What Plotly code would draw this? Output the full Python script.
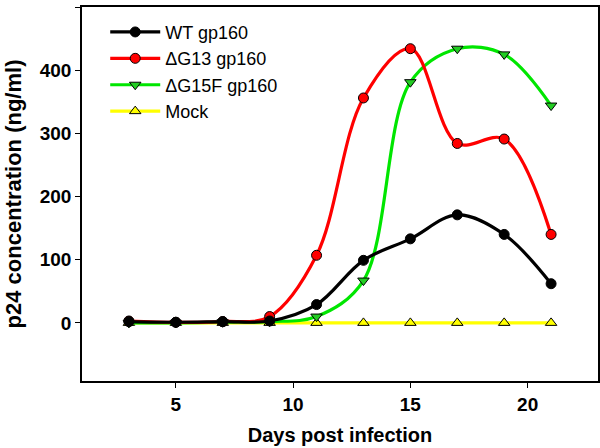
import plotly.graph_objects as go

days = [3, 5, 7, 9, 11, 13, 15, 17, 19, 21]
wt = [2, 1, 2, 3, 29, 99, 133, 171, 140, 62]
dg13 = [3, 1, 2, 10, 107, 356, 434, 284, 291, 140]
dg15f = [0, 0, 1, 2, 10, 67, 381, 434, 425, 344]
mock = [0, 0, 0, 0, 0, 0, 0, 0, 0, 0]

series = [
    ("Mock", mock, "#FFFF00", "triangle-up", "#FFFF00"),
    ("ΔG15F gp160", dg15f, "#00E600", "triangle-down", "#22CC22"),
    ("ΔG13 gp160", dg13, "#FF0000", "circle", "#FF0000"),
    ("WT gp160", wt, "#000000", "circle", "#000000"),
]
order = {"WT gp160": 1, "ΔG13 gp160": 2, "ΔG15F gp160": 3, "Mock": 4}

fig = go.Figure()
for name, vals, color, sym, mfill in series:
    fig.add_trace(go.Scatter(
        x=days, y=vals, name=name, mode="lines+markers",
        line=dict(color=color, width=3.2, shape="spline", smoothing=1.0),
        marker=dict(symbol=sym, size=10, color=mfill, line=dict(color="black", width=1)),
        legendrank=order[name],
    ))

font = "Arial, Liberation Sans, sans-serif"
fig.update_layout(
    width=600, height=448,
    margin=dict(l=82, r=2, t=7, b=67),
    plot_bgcolor="white", paper_bgcolor="white",
    font=dict(family=font, size=16, color="black"),
    showlegend=True,
    legend=dict(x=0.045, y=0.982, xanchor="left", yanchor="top",
                bgcolor="rgba(0,0,0,0)", font=dict(size=18, family=font),
                itemwidth=50, tracegroupgap=0),
    xaxis=dict(range=[1, 23], tickvals=[5, 10, 15, 20], showgrid=False, zeroline=False,
               showline=True, linecolor="black", linewidth=1.5, mirror=True, automargin=False,
               ticks="outside", ticklen=5, tickcolor="black",
               tickfont=dict(size=19, family=font, weight="bold"),
               title=dict(text="<b>Days post infection</b>", font=dict(size=20), standoff=14)),
    yaxis=dict(range=[-92, 500], tickvals=[0, 100, 200, 300, 400, 500], showgrid=False, zeroline=False,
               showline=True, linecolor="black", linewidth=1.5, mirror=True, automargin=False,
               ticks="outside", ticklen=5, tickcolor="black",
               tickfont=dict(size=19, family=font, weight="bold"),
               title=dict(text="<b>p24 concentration (ng/ml)</b>", font=dict(size=22), standoff=12)),
)
fig.write_html("out.html", config={"displayModeBar": False},
               post_script="document.body.style.margin='0';document.body.style.padding='0';")
